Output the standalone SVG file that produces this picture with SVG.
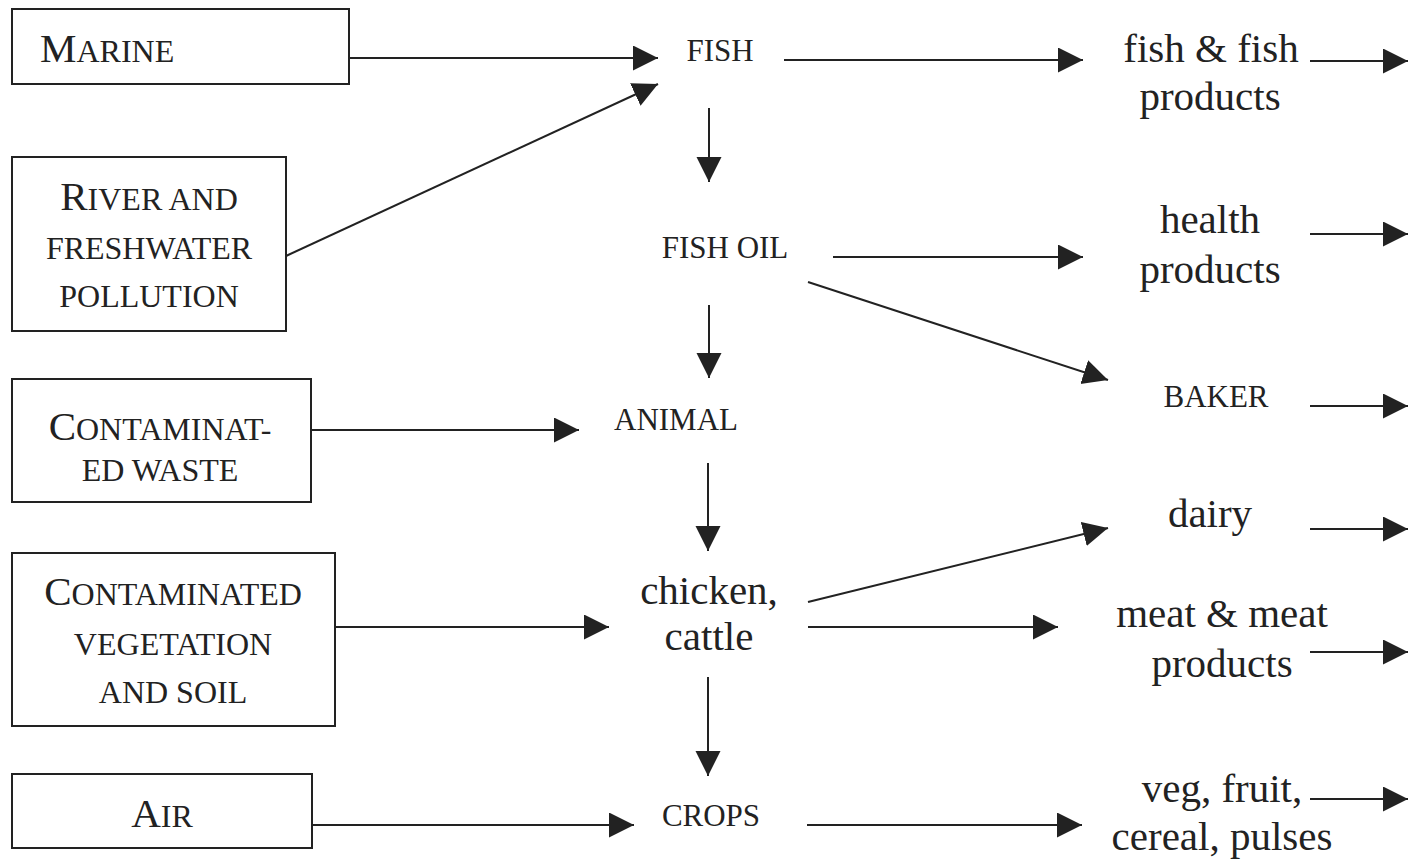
<svg xmlns="http://www.w3.org/2000/svg" width="1408" height="859" viewBox="0 0 1408 859">
<style>
  .box { fill: #fff; stroke: #222; stroke-width: 2; }
  .t { font-family: "Liberation Serif", "Times New Roman", serif; fill: #222; }
  .sc { font-size: 32px; }
  .big { font-size: 41px; }
  .cap { font-size: 31px; }
  .lc { font-size: 41px; }
  .c { text-anchor: middle; }
  .ln { stroke: #222; stroke-width: 2; fill: none; marker-end: url(#ah); }
</style>
<defs>
  <marker id="ah" markerUnits="userSpaceOnUse" markerWidth="26" markerHeight="26" refX="25" refY="12.5" orient="auto" viewBox="0 0 26 26">
    <path d="M0,0 L25,12.5 L0,25 z" fill="#222"/>
  </marker>
</defs>
<rect width="1408" height="859" fill="#fff"/>

<g id="marine">
  <rect class="box" x="12" y="9" width="337" height="75"/>
  <text class="t sc" x="40" y="62"><tspan class="big">M</tspan>ARINE</text>
</g>
<g id="river">
  <rect class="box" x="12" y="157" width="274" height="174"/>
  <text class="t sc c" x="149" y="210"><tspan class="big">R</tspan>IVER AND</text>
  <text class="t sc c" x="149" y="259">FRESHWATER</text>
  <text class="t sc c" x="149" y="307">POLLUTION</text>
</g>
<g id="waste">
  <rect class="box" x="12" y="379" width="299" height="123"/>
  <text class="t sc c" x="160" y="440"><tspan class="big">C</tspan>ONTAMINAT-</text>
  <text class="t sc c" x="160" y="481">ED WASTE</text>
</g>
<g id="vegetation">
  <rect class="box" x="12" y="553" width="323" height="173"/>
  <text class="t sc c" x="173" y="605"><tspan class="big">C</tspan>ONTAMINATED</text>
  <text class="t sc c" x="173" y="655">VEGETATION</text>
  <text class="t sc c" x="173" y="703">AND SOIL</text>
</g>
<g id="air">
  <rect class="box" x="12" y="774" width="300" height="74"/>
  <text class="t sc c" x="162" y="827"><tspan class="big">A</tspan>IR</text>
</g>

<g id="fish"><text class="t cap c" x="720" y="61">FISH</text></g>
<g id="fishoil"><text class="t cap c" x="725" y="258">FISH OIL</text></g>
<g id="animal"><text class="t cap c" x="676" y="430">ANIMAL</text></g>
<g id="chicken">
  <text class="t lc c" x="709" y="604">chicken,</text>
  <text class="t lc c" x="709" y="650">cattle</text>
</g>
<g id="crops"><text class="t cap c" x="711" y="826">CROPS</text></g>

<g id="fishproducts">
  <text class="t lc c" x="1211" y="62">fish &amp; fish</text>
  <text class="t lc c" x="1210" y="110">products</text>
</g>
<g id="health">
  <text class="t lc c" x="1210" y="233">health</text>
  <text class="t lc c" x="1210" y="283">products</text>
</g>
<g id="baker"><text class="t cap c" x="1216" y="407">BAKER</text></g>
<g id="dairy"><text class="t lc c" x="1210" y="527">dairy</text></g>
<g id="meat">
  <text class="t lc c" x="1222" y="627">meat &amp; meat</text>
  <text class="t lc c" x="1222" y="677">products</text>
</g>
<g id="veg">
  <text class="t lc c" x="1222" y="802">veg, fruit,</text>
  <text class="t lc c" x="1222" y="850">cereal, pulses</text>
</g>

<g id="connectors">
  <line class="ln" x1="349" y1="58" x2="658" y2="58"/>
  <line class="ln" x1="286" y1="256" x2="658" y2="84"/>
  <line class="ln" x1="784" y1="60" x2="1083" y2="60"/>
  <line class="ln" x1="709" y1="108" x2="709" y2="182"/>
  <line class="ln" x1="833" y1="257" x2="1083" y2="257"/>
  <line class="ln" x1="808" y1="282" x2="1108" y2="380"/>
  <line class="ln" x1="709" y1="305" x2="709" y2="378"/>
  <line class="ln" x1="311" y1="430" x2="579" y2="430"/>
  <line class="ln" x1="708" y1="463" x2="708" y2="551"/>
  <line class="ln" x1="808" y1="602" x2="1108" y2="528"/>
  <line class="ln" x1="335" y1="627" x2="609" y2="627"/>
  <line class="ln" x1="808" y1="627" x2="1058" y2="627"/>
  <line class="ln" x1="708" y1="677" x2="708" y2="776"/>
  <line class="ln" x1="312" y1="825" x2="634" y2="825"/>
  <line class="ln" x1="807" y1="825" x2="1082" y2="825"/>
  <line class="ln" x1="1310" y1="61" x2="1408" y2="61"/>
  <line class="ln" x1="1310" y1="234" x2="1408" y2="234"/>
  <line class="ln" x1="1310" y1="406" x2="1408" y2="406"/>
  <line class="ln" x1="1310" y1="529" x2="1408" y2="529"/>
  <line class="ln" x1="1310" y1="652" x2="1408" y2="652"/>
  <line class="ln" x1="1310" y1="799" x2="1408" y2="799"/>
</g>
</svg>
